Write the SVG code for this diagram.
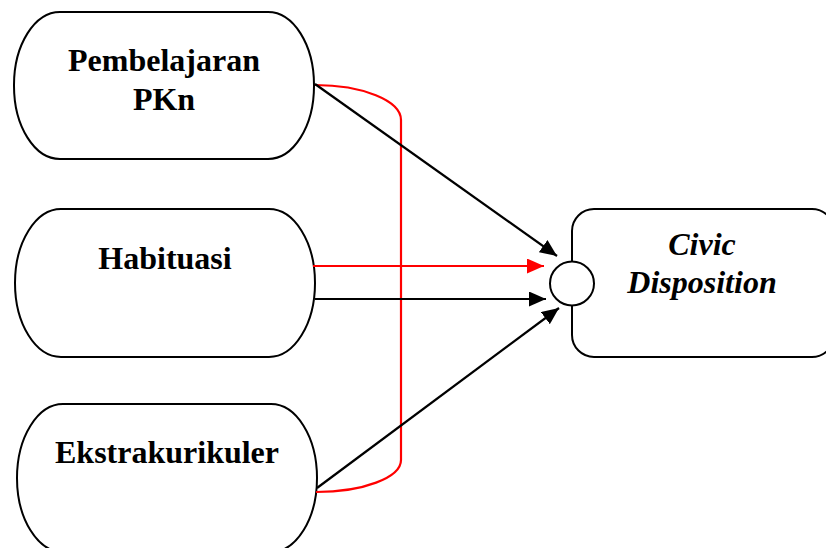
<svg xmlns="http://www.w3.org/2000/svg" width="826" height="548" viewBox="0 0 826 548">
<style>
.node{fill:#fff;stroke:#000;stroke-width:2}
.lbl{font-family:"Liberation Serif","Times New Roman",serif;font-weight:bold;font-size:32px;fill:#000;text-anchor:middle}
.it{font-style:italic}
.blk{stroke:#000;stroke-width:2.2;fill:none}
.red{stroke:#ff0000;stroke-width:2.2;fill:none}
</style>
<defs>
<marker id="ab" markerUnits="userSpaceOnUse" markerWidth="18" markerHeight="16" refX="17" refY="7.5" orient="auto"><path d="M0,0 L17,7.5 L0,15 z" fill="#000"/></marker>
<marker id="ar" markerUnits="userSpaceOnUse" markerWidth="18" markerHeight="16" refX="17" refY="7.5" orient="auto"><path d="M0,0 L17,7.5 L0,15 z" fill="#ff0000"/></marker>
</defs>
<rect width="826" height="548" fill="#fff"/>
<g id="pkn">
<rect class="node" x="14" y="12" width="300" height="147" rx="46" ry="73"/>
<text class="lbl" x="164" y="71">Pembelajaran</text>
<text class="lbl" x="164" y="110">PKn</text>
</g>
<g id="habituasi">
<rect class="node" x="15" y="209" width="300" height="148" rx="46" ry="74"/>
<text class="lbl" x="165" y="269">Habituasi</text>
</g>
<g id="ekstra">
<rect class="node" x="17" y="404" width="300" height="148" rx="46" ry="74"/>
<text class="lbl" x="167" y="463">Ekstrakurikuler</text>
</g>
<g id="civic">
<rect class="node" x="572" y="209" width="262" height="148" rx="22" ry="22"/>
<text class="lbl it" x="702" y="255">Civic</text>
<text class="lbl it" x="702" y="293">Disposition</text>
</g>
<g id="connectors">
<path class="red" d="M315,85 A86 35 0 0 1 401,120 L401,460 A85 32 0 0 1 316,492"/>
<line class="blk" x1="315" y1="84" x2="557" y2="256" marker-end="url(#ab)"/>
<line class="red" x1="313" y1="266" x2="544" y2="266" marker-end="url(#ar)"/>
<line class="blk" x1="315" y1="299" x2="546" y2="299" marker-end="url(#ab)"/>
<line class="blk" x1="317" y1="488" x2="559" y2="308" marker-end="url(#ab)"/>
</g>
<g id="junction">
<circle class="node" cx="572" cy="283.5" r="22"/>
</g>
</svg>
